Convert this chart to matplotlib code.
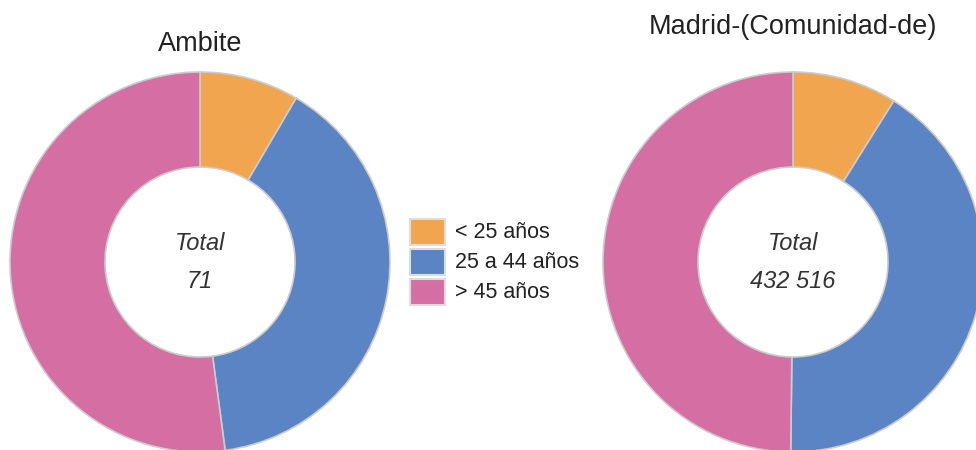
import matplotlib.pyplot as plt
from matplotlib.patches import Rectangle

plt.rcParams['font.family'] = ['Liberation Sans', 'DejaVu Sans']

grupos = ['< 25 años', '25 a 44 años', '> 45 años']
colores = ['#F2A54F', '#5B84C4', '#D46EA3']

ambite = [6, 28, 37]
madrid = [38500, 178600, 215416]

W, H = 976, 450

def add_donut(cx, cy, r, valores, total_txt):
    ax = fig.add_axes([(cx - r) / W, 1 - (cy + r) / H, 2 * r / W, 2 * r / H])
    ax.pie(valores, colors=colores, startangle=90, counterclock=False,
           radius=1, wedgeprops=dict(width=0.5, edgecolor='#cccccc', linewidth=1.2))
    ax.set_xlim(-1, 1)
    ax.set_ylim(-1, 1)
    ax.set_aspect('equal')
    ax.axis('off')
    ax.text(0, 0.1, 'Total', ha='center', va='center', style='italic',
            fontsize=17, color='#333333')
    ax.text(0, -0.1, total_txt, ha='center', va='center', style='italic',
            fontsize=17, color='#333333')
    return ax

fig = plt.figure(figsize=(W / 100, H / 100), dpi=100)

add_donut(200, 262, 190, ambite, '71')
add_donut(793, 262, 190, madrid, '432 516')

fig.text(200 / W, 1 - 44 / H, 'Ambite', ha='center', va='center',
         fontsize=19.5, color='#222222')
fig.text(793 / W, 1 - 27 / H, 'Madrid-(Comunidad-de)', ha='center', va='center',
         fontsize=19.5, color='#222222')

# leyenda
for i, (g, c) in enumerate(zip(grupos, colores)):
    y = 232 + i * 30
    fig.patches.append(Rectangle((410 / W, 1 - (y + 13) / H), 35 / W, 26 / H,
                                 transform=fig.transFigure, facecolor=c,
                                 edgecolor='#dddddd', linewidth=1.5))
    fig.text(455 / W, 1 - y / H, g, ha='left', va='center',
             fontsize=15.5, color='#222222')

fig.savefig('out.png', dpi=100)
